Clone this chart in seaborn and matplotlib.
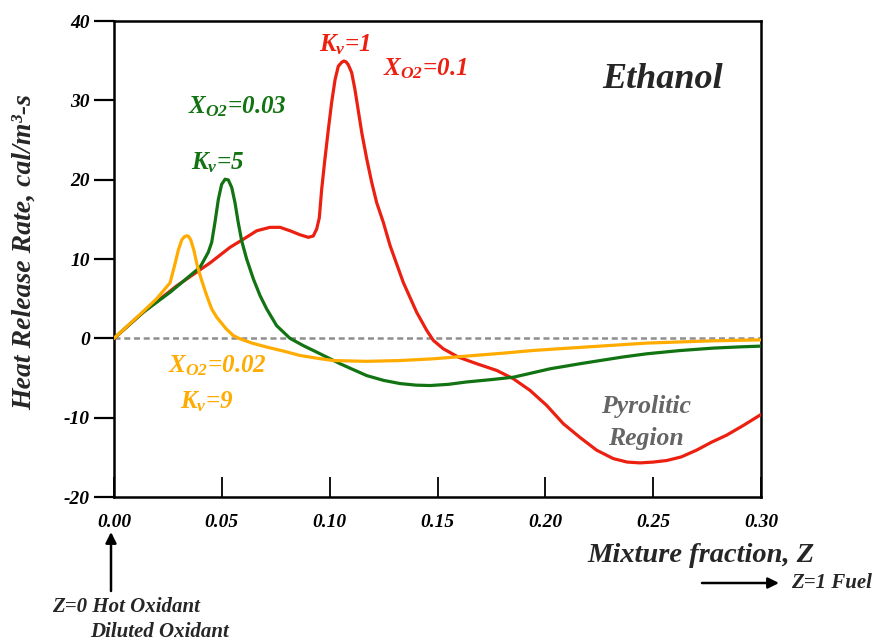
import matplotlib
matplotlib.use("Agg")
import matplotlib.pyplot as plt
import numpy as np
import pandas as pd
import seaborn as sns

# Heat release rate profiles vs. mixture fraction (ethanol flames)
z_kv1 = [0.0, 0.0136, 0.029, 0.0445, 0.0538, 0.060, 0.0662, 0.0723, 0.077, 0.0816,
         0.0862, 0.0901, 0.0924, 0.094, 0.0952, 0.0963, 0.0978, 0.0994, 0.1009, 0.1025,
         0.104, 0.1056, 0.1066, 0.1076, 0.1086, 0.1102, 0.1117, 0.1133, 0.1149, 0.1172,
         0.1195, 0.1218, 0.1249, 0.128, 0.1341, 0.1403, 0.145, 0.1481, 0.1527, 0.1597,
         0.1682, 0.1775, 0.1852, 0.1929, 0.2006, 0.2083, 0.2161, 0.2238, 0.2315, 0.238,
         0.2439, 0.25, 0.2563, 0.263, 0.2701, 0.277, 0.2841, 0.292, 0.30]
hrr_kv1 = [0.0, 3.3, 6.6, 9.5, 11.47, 12.5, 13.56, 13.99, 13.99, 13.56,
           13.06, 12.73, 12.9, 13.8, 15.2, 18.8, 22.6, 26.35, 29.7, 32.6,
           34.3, 34.8, 34.95, 34.85, 34.5, 33.5, 31.4, 28.65, 25.9, 22.6,
           19.65, 17.1, 14.6, 11.7, 7.07, 3.3, 1.0, -0.27, -1.32, -2.37,
           -3.2, -4.05, -5.1, -6.56, -8.45, -10.75, -12.5, -14.1, -15.16, -15.6,
           -15.7, -15.6, -15.4, -14.95, -14.1, -13.1, -12.2, -10.95, -9.6]

z_kv5 = [0.0, 0.0136, 0.026, 0.0399, 0.0437, 0.0453, 0.0468, 0.0484, 0.0499, 0.0515,
         0.053, 0.0546, 0.0561, 0.0576, 0.0592, 0.0615, 0.0646, 0.0677, 0.0708, 0.0754,
         0.0816, 0.088, 0.094, 0.1048, 0.1172, 0.125, 0.1326, 0.14, 0.1465, 0.155,
         0.1635, 0.175, 0.1852, 0.2022, 0.2161, 0.2254, 0.236, 0.247, 0.262, 0.2779,
         0.29, 0.30]
hrr_kv5 = [0.0, 3.3, 5.8, 8.96, 10.84, 12.1, 14.6, 17.55, 19.4, 20.06,
           19.97, 19.0, 17.1, 14.6, 12.3, 10.0, 7.5, 5.4, 3.7, 1.6,
           0.0, -0.95, -1.74, -3.2, -4.7, -5.3, -5.7, -5.9, -5.95, -5.8,
           -5.5, -5.2, -4.9, -3.84, -3.2, -2.8, -2.35, -1.95, -1.55, -1.23,
           -1.08, -0.98]

z_kv9 = [0.0, 0.0136, 0.0198, 0.026, 0.0283, 0.0298, 0.0314, 0.0326, 0.0337, 0.0346,
         0.0356, 0.0371, 0.0386, 0.0407, 0.043, 0.0453, 0.0476, 0.052, 0.0553, 0.0584,
         0.064, 0.0708, 0.0785, 0.0862, 0.094, 0.1017, 0.1172, 0.1326, 0.1481, 0.1635,
         0.18, 0.1944, 0.21, 0.2254, 0.247, 0.2779, 0.30]
hrr_kv9 = [0.0, 3.4, 5.0, 7.0, 9.4, 11.1, 12.4, 12.8, 12.93, 12.85,
           12.4, 11.04, 9.16, 7.27, 5.38, 3.7, 2.67, 1.2, 0.35, -0.06,
           -0.6, -1.1, -1.6, -2.16, -2.5, -2.8, -2.9, -2.8, -2.58, -2.24,
           -1.88, -1.53, -1.25, -0.98, -0.6, -0.31, -0.19]

x_ticks = [0.0, 0.05, 0.10, 0.15, 0.20, 0.25, 0.30]
x_tick_labels = ["0.00", "0.05", "0.10", "0.15", "0.20", "0.25", "0.30"]
y_ticks = [40, 30, 20, 10, 0, -10, -20]
y_tick_labels = ["40", "30", "20", "10", "0", "-10", "-20"]

RED, GREEN, ORANGE, GREY = "#ec2010", "#127312", "#ffab00", "#656565"

sns.set_theme(style="white")
plt.rcParams["font.family"] = ["Liberation Serif", "DejaVu Serif"]
plt.rcParams["font.style"] = "italic"
plt.rcParams["font.weight"] = "bold"
plt.rcParams["mathtext.fontset"] = "custom"
plt.rcParams["mathtext.rm"] = "Liberation Serif:italic:bold"
plt.rcParams["mathtext.it"] = "Liberation Serif:italic:bold"
plt.rcParams["mathtext.bf"] = "Liberation Serif:italic:bold"
plt.rcParams["lines.solid_joinstyle"] = "round"
plt.rcParams["lines.solid_capstyle"] = "round"

df = pd.concat([
    pd.DataFrame({"Z": z_kv1, "HRR": hrr_kv1, "case": "kv1"}),
    pd.DataFrame({"Z": z_kv5, "HRR": hrr_kv5, "case": "kv5"}),
    pd.DataFrame({"Z": z_kv9, "HRR": hrr_kv9, "case": "kv9"}),
], ignore_index=True)

W, H = 879, 641
fig = plt.figure(figsize=(W / 100, H / 100), dpi=100)
ax = fig.add_axes([114 / W, 1 - 497 / H, (761 - 114) / W, (497 - 21) / H])

ax.axhline(0, color="#8f8f8f", lw=1.8, dashes=(2.4, 1.5), zorder=1)
sns.lineplot(data=df, x="Z", y="HRR", hue="case", sort=False, estimator=None,
             palette={"kv1": RED, "kv5": GREEN, "kv9": ORANGE},
             lw=2.3, legend=False, ax=ax, zorder=3)

ax.set_xlim(0, 0.30)
ax.set_ylim(-20, 40)
ax.set_xticks(x_ticks)
ax.set_xticklabels(x_tick_labels)
ax.set_yticks(y_ticks)
ax.set_yticklabels(y_tick_labels)
ax.set_xlabel("")
ax.set_ylabel("")
for s in ax.spines.values():
    s.set_color("black")
    s.set_linewidth(1.8)
ax.tick_params(axis="y", direction="out", length=14.5, width=1.6, pad=3,
               labelsize=14, colors="black", left=True)
ax.tick_params(axis="x", direction="in", length=14.5, width=1.3, pad=12,
               labelsize=14, colors="black", bottom=True)


def ftext(x, y, s, **kw):
    """Place text at pixel coordinates measured from the top-left corner."""
    return fig.text(x / W, 1 - y / H, s, **kw)


ftext(24, 252, "Heat Release Rate, cal/m³-s", rotation=90, fontsize=20,
      ha="center", va="center")
ftext(701, 555, "Mixture fraction, Z", fontsize=20.5, ha="center", va="center")
ftext(663, 80, "Ethanol", fontsize=26, ha="center", va="center")

ftext(345, 45, r"$K_v$=1", fontsize=18, color=RED, ha="center", va="center")
ftext(425, 69, r"$X_{O2}$=0.1", fontsize=18, color=RED, ha="center", va="center")
ftext(237, 107, r"$X_{O2}$=0.03", fontsize=18, color=GREEN, ha="center", va="center")
ftext(218, 163, r"$K_v$=5", fontsize=18, color=GREEN, ha="center", va="center")
ftext(217, 366, r"$X_{O2}$=0.02", fontsize=18, color=ORANGE, ha="center", va="center")
ftext(207, 402, r"$K_v$=9", fontsize=18, color=ORANGE, ha="center", va="center")
ftext(646, 406, "Pyrolitic", fontsize=18.5, color=GREY, ha="center", va="center")
ftext(646, 438, "Region", fontsize=18.5, color=GREY, ha="center", va="center")

ftext(126, 607, "Z=0 Hot Oxidant", fontsize=15, ha="center", va="center")
ftext(160, 632, "Diluted Oxidant", fontsize=15, ha="center", va="center")
ftext(791, 583, "Z=1 Fuel", fontsize=15, ha="left", va="center")

arrow = dict(arrowstyle="-|>", color="black", lw=1.8, mutation_scale=16,
             shrinkA=0, shrinkB=0)
ax.annotate("", xy=(111 / W, 1 - 532 / H), xytext=(111 / W, 1 - 591 / H),
            xycoords="figure fraction", textcoords="figure fraction",
            arrowprops=arrow, annotation_clip=False)
ax.annotate("", xy=(779 / W, 1 - 583 / H), xytext=(702 / W, 1 - 583 / H),
            xycoords="figure fraction", textcoords="figure fraction",
            arrowprops=arrow, annotation_clip=False)

fig.savefig("out.png", dpi=100, facecolor="white")
